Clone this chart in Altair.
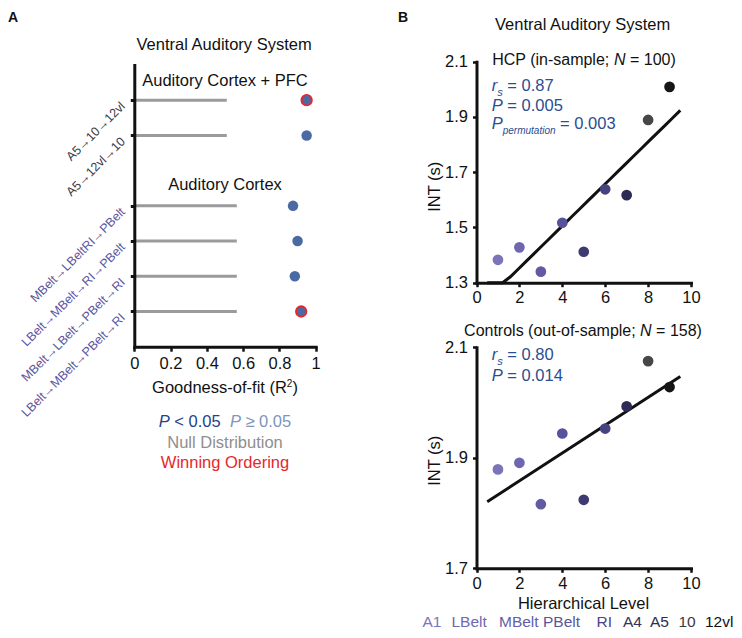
import altair as alt
import pandas as pd

FONT = "Liberation Sans"
M = 8                     # page margin: chart coords = page coords - 8
CW, CH = 726, 622

# ---------------- Panel A data ----------------
a_slot = [1, 2, 4, 5, 6, 7]
a_fit = [0.95, 0.95, 0.875, 0.90, 0.885, 0.92]
a_null = [0.51, 0.51, 0.565, 0.565, 0.565, 0.565]
a_winning = [True, False, False, False, False, True]
a_labels_txt = ["A5→10→12vl", "A5→12vl→10", "MBelt→LBeltRI→PBelt",
                "LBelt→MBelt→RI→PBelt", "MBelt→LBelt→PBelt→RI", "LBelt→MBelt→PBelt→RI"]
a_label_colors = ["#3a3a46", "#3a3a46", "#5b55a0", "#5b55a0", "#5b55a0", "#5b55a0"]

# ---------------- Panel B data ----------------
levels = [1, 2, 3, 4, 5, 6, 7, 8, 9]
regions = ["A1", "LBelt", "MBelt", "PBelt", "RI", "A4", "A5", "10", "12vl"]
hcp_int = [1.383, 1.428, 1.340, 1.517, 1.412, 1.638, 1.617, 1.889, 2.009]
ctrl_int = [1.879, 1.891, 1.816, 1.944, 1.824, 1.953, 1.993, 2.075, 2.028]
point_colors = ["#7b74b9", "#6e67af", "#625ba3", "#58529a", "#3e3b72", "#47437f",
                "#2d2b55", "#474747", "#161616"]
legend_colors = ["#7b74b9", "#7069b0", "#655ea6", "#5a549c", "#4a4585", "#36335f",
                 "#2e2c50", "#3a3a3a", "#111111"]
legend_x = [422.5, 451.5, 499, 543, 596.5, 623, 650, 678.5, 705]  # layout (page px)

DARK = "#111111"
BLUE = "#2a4e90"
ONE = pd.DataFrame({"k": [0]})

# ---------------- text helpers ----------------
WID = {' ': 278, '(': 333, ')': 333, ';': 278, '=': 584, '<': 584, '≥': 549, '.': 278,
       '-': 333, '+': 584, '→': 1000}
for d in "0123456789":
    WID[d] = 556
WID.update(dict(a=556, b=556, c=500, d=556, e=556, f=278, g=556, h=556, i=222, j=222,
                k=500, l=222, m=833, n=556, o=556, p=556, q=556, r=333, s=500, t=278,
                u=556, v=500, w=722, x=500, y=500, z=500))
WID.update(dict(A=667, B=667, C=722, D=722, E=667, F=611, G=778, H=722, I=278, L=556,
                M=833, N=722, O=778, P=667, R=722, S=667, T=611, V=667, W=944))


def tw(s, size):
    return sum(WID.get(ch, 556) for ch in s) * size / 1000.0


def text_layer(body, x, y, size=16.5, color=DARK, italic=False, bold=False,
               align="left", baseline="alphabetic", angle=None):
    props = dict(text=body, align=align, baseline=baseline, font=FONT,
                 fontSize=size, color=color)
    if italic:
        props["fontStyle"] = "italic"
    if bold:
        props["fontWeight"] = "bold"
    if angle is not None:
        props["angle"] = angle
    return alt.Chart(ONE).mark_text(**props).encode(
        x=alt.value(x - M), y=alt.value(y - M))


def seq(segs, x, y, align="left", size=16.5, color=DARK):
    """segs: list of (text, opts); lays pieces out left to right"""
    full = [(t, o.get("size", size), o) for t, o in segs]
    total = sum(tw(t, s) for t, s, _ in full)
    cur = x - total / 2 if align == "center" else x
    out = []
    for t, s, o in full:
        lead = len(t) - len(t.lstrip(" "))
        cur += lead * WID[' '] * s / 1000
        body = t.strip(" ")
        if body:
            out.append(text_layer(body, cur, y + o.get("dy", 0), size=s,
                                  color=o.get("color", color), italic=o.get("it", False)))
        cur += tw(body, s)
        trail = len(t) - len(t.rstrip(" ")) if body else 0
        cur += trail * WID[' '] * s / 1000
    return out


# ---------------- scales & axes ----------------
def ax_common(**kw):
    base = dict(title=None, grid=False, domainColor=DARK, domainWidth=3, domainCap="square",
                tickColor=DARK, labelFont=FONT, labelFontSize=16.5, labelColor=DARK,
                labelOverlap=False)
    base.update(kw)
    return alt.Axis(**base)


A_X = alt.Scale(domain=[0, 1], range=[126.3, 307.7], nice=False, zero=False)
A_Y = alt.Scale(domain=[0, 8], range=[57, 338.7], nice=False, zero=False)
B_X = alt.Scale(domain=[0, 10], range=[468.5, 683], nice=False, zero=False)
B1_Y = alt.Scale(domain=[1.3, 2.1], range=[274.7, 53.7], nice=False, zero=False)
B1_Yc = alt.Scale(domain=[1.3, 2.1], range=[274.7, 53.7], nice=False, zero=False, clamp=True)
B2_Y = alt.Scale(domain=[1.7, 2.1], range=[560.3, 339.3], nice=False, zero=False)

axA_x = ax_common(orient="bottom", offset=338.7 - CH, values=[0, 0.2, 0.4, 0.6, 0.8, 1],
                  format="~g", labelFlush=False, tickWidth=2.5, tickSize=4.5,
                  labelPadding=4, zindex=1)
axA_y = ax_common(orient="left", offset=-126.3, values=a_slot, labels=False,
                  tickWidth=3, tickSize=4, zindex=1)
axB1_x = ax_common(orient="bottom", offset=274.7 - CH, values=[0, 2, 4, 6, 8, 10],
                   labelFlush=False, tickWidth=2.5, tickSize=4, labelPadding=3)
axB1_y = ax_common(orient="left", offset=-468.5, values=[1.3, 1.5, 1.7, 1.9, 2.1],
                   format=".1f", tickWidth=2.5, tickSize=4, labelPadding=5)
axB2_x = ax_common(orient="bottom", offset=560.3 - CH, values=[0, 2, 4, 6, 8, 10],
                   labelFlush=False, tickWidth=2.5, tickSize=4, labelPadding=3)
axB2_y = ax_common(orient="left", offset=-468.5, values=[1.7, 1.9, 2.1],
                   format=".1f", tickWidth=2.5, tickSize=4, labelPadding=5)

# ---------------- Panel A marks ----------------
dfA = pd.DataFrame({"slot": a_slot, "fit": a_fit, "null": a_null, "win": a_winning,
                    "start": [0] * len(a_slot), "lab": a_labels_txt, "lc": a_label_colors})

a_null_layer = alt.Chart(dfA).mark_rule(color="#9b9b9b", strokeWidth=3).encode(
    x=alt.X("start:Q", scale=A_X, axis=axA_x),
    x2="null:Q",
    y=alt.Y("slot:Q", scale=A_Y, axis=axA_y))

a_dots = alt.Chart(dfA).mark_circle(size=110, color="#4a6aa3", opacity=1).encode(
    x=alt.X("fit:Q", scale=A_X, axis=None),
    y=alt.Y("slot:Q", scale=A_Y, axis=None))

a_win = alt.Chart(dfA).transform_filter("datum.win").mark_circle(
    size=110, color="#4a6aa3", opacity=1, stroke="#e8262d", strokeWidth=1.8).encode(
    x=alt.X("fit:Q", scale=A_X, axis=None),
    y=alt.Y("slot:Q", scale=A_Y, axis=None))

a_labels = alt.Chart(dfA).mark_text(angle=315, align="right", baseline="middle",
                                    font=FONT, fontSize=12.5, yOffset=4).encode(
    x=alt.value(123 - M),
    y=alt.Y("slot:Q", scale=A_Y, axis=None),
    text="lab:N",
    color=alt.Color("lc:N", scale=None))

# ---------------- Panel B marks ----------------
dfB1 = pd.DataFrame({"level": levels, "int": hcp_int, "col": point_colors})
dfB2 = pd.DataFrame({"level": levels, "int": ctrl_int, "col": point_colors})

b1_pts = alt.Chart(dfB1).mark_circle(size=115, opacity=1).encode(
    x=alt.X("level:Q", scale=B_X, axis=axB1_x),
    y=alt.Y("int:Q", scale=B1_Y, axis=axB1_y),
    color=alt.Color("col:N", scale=None))
b1_fit = alt.Chart(dfB1).transform_regression(
    "level", "int", method="poly", order=1, extent=[0.5, 9.5]).mark_line(
    color=DARK, strokeWidth=3).encode(
    x=alt.X("level:Q", scale=B_X, axis=None),
    y=alt.Y("int:Q", scale=B1_Yc, axis=None))

b2_pts = alt.Chart(dfB2).mark_circle(size=115, opacity=1).encode(
    x=alt.X("level:Q", scale=B_X, axis=axB2_x),
    y=alt.Y("int:Q", scale=B2_Y, axis=axB2_y),
    color=alt.Color("col:N", scale=None))
b2_fit = alt.Chart(dfB2).transform_regression(
    "level", "int", extent=[0.5, 9.5]).mark_line(color=DARK, strokeWidth=3).encode(
    x=alt.X("level:Q", scale=B_X, axis=None),
    y=alt.Y("int:Q", scale=B2_Y, axis=None))

dfLeg = pd.DataFrame({"name": regions, "col": legend_colors, "lx": [v - M for v in legend_x]})
b_legend = alt.Chart(dfLeg).mark_text(align="left", baseline="alphabetic", font=FONT,
                                      fontSize=15.5).encode(
    x=alt.X("lx:Q", scale=None, axis=None),
    y=alt.value(626.5 - M),
    text="name:N",
    color=alt.Color("col:N", scale=None))

# ---------------- annotations ----------------
ann = []
ann.append(text_layer("A", 8, 21.5, size=14, bold=True))
ann.append(text_layer("B", 398, 21.5, size=14, bold=True))
ann += seq([("Ventral Auditory System", {})], 225, 49.5, align="center")
ann += seq([("Auditory Cortex + PFC", {})], 225, 86, align="center")
ann += seq([("Auditory Cortex", {})], 225, 190, align="center")
ann += seq([("Goodness-of-fit (R", {}), ("2", {"size": 10, "dy": -6.5}), (")", {})],
           225, 393.3, align="center")
PD, PL = "#1f4287", "#7f95bb"
ann += seq([("P", {"it": True, "color": PD}), (" < 0.05", {"color": PD}), ("  ", {}),
            ("P", {"it": True, "color": PL}), (" ≥ 0.05", {"color": PL})],
           225, 427, align="center")
ann += seq([("Null Distribution", {"color": "#8e8e8e"})], 225, 447.5, align="center")
ann += seq([("Winning Ordering", {"color": "#e8262d"})], 225, 467.5, align="center")

ann += seq([("Ventral Auditory System", {})], 583.5, 30, align="center")
ann += seq([("HCP (in-sample; ", {}), ("N", {"it": True}), (" = 100)", {})],
           584, 65, align="center", size=16)
ann += seq([("r", {"it": True}), ("s", {"it": True, "size": 11, "dy": 5}), (" = 0.87", {})],
           491.7, 91, color=BLUE)
ann += seq([("P", {"it": True}), (" = 0.005", {})], 491.7, 111, color=BLUE)
ann += seq([("P", {"it": True}), ("permutation", {"it": True, "size": 10, "dy": 5}),
            (" = 0.003", {})], 491.7, 128.7, color=BLUE)
ann += seq([("Controls (out-of-sample; ", {}), ("N", {"it": True}), (" = 158)", {})],
           583, 335.7, align="center", size=16)
ann += seq([("r", {"it": True}), ("s", {"it": True, "size": 11, "dy": 5}), (" = 0.80", {})],
           491.7, 360, color=BLUE)
ann += seq([("P", {"it": True}), (" = 0.014", {})], 491.7, 380.5, color=BLUE)
ann.append(text_layer("INT (s)", 435, 186.7, align="center", baseline="middle", angle=270))
ann.append(text_layer("INT (s)", 435, 460.8, align="center", baseline="middle", angle=270))
ann += seq([("Hierarchical Level", {})], 583.5, 609, align="center")

chart = alt.layer(
    a_null_layer, a_dots, a_win, a_labels,
    b1_fit, b1_pts, b2_fit, b2_pts, b_legend, *ann
).resolve_scale(x="independent", y="independent", color="independent").resolve_axis(
    x="independent", y="independent"
).properties(
    width=CW, height=CH, padding=0, autosize=alt.AutoSizeParams(type="none")
).configure_view(stroke="transparent")

chart.save("out.html", embed_options={"renderer": "svg", "actions": False})
